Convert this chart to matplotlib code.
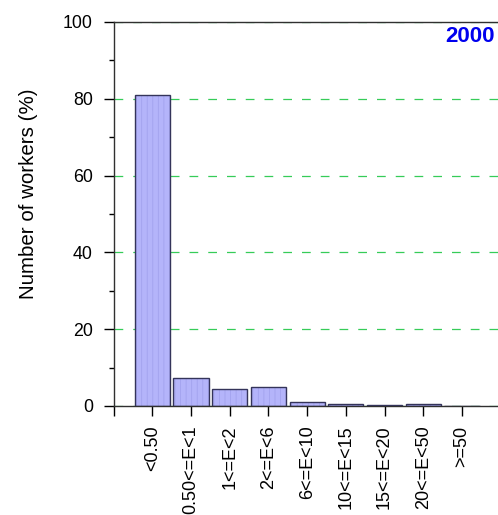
import matplotlib
matplotlib.use("Agg")
import matplotlib.pyplot as plt
from matplotlib.ticker import MultipleLocator

plt.rcParams['font.family'] = ['Liberation Sans', 'DejaVu Sans']
plt.rcParams['hatch.linewidth'] = 0.6

# --- data ---
CATEGORIES = ["<0.50", "0.50<=E<1", "1<=E<2", "2<=E<6", "6<=E<10",
              "10<=E<15", "15<=E<20", "20<=E<50", ">=50"]
SHARE_2000 = [81.0, 7.3, 4.4, 5.0, 1.1, 0.6, 0.35, 0.45, 0.1]
YEAR = "2000"

fig = plt.figure(figsize=(4.98, 5.15), dpi=100)
ax = fig.add_axes([0.2283, 0.2117, 0.777, 0.7456])

pos = list(range(1, len(CATEGORIES) + 1))

# fill with faint vertical hatching, then the dark outline on top
ax.bar(pos, SHARE_2000, width=0.91, color="#b4b4fa", edgecolor="#a2a2ee",
       linewidth=0, hatch="|||", zorder=2)
ax.bar(pos, SHARE_2000, width=0.91, fill=False, edgecolor="#34345a",
       linewidth=1.0, zorder=3)

ax.set_xlim(0, 10)
ax.set_ylim(0, 100)

ax.yaxis.set_major_locator(MultipleLocator(20))
ax.yaxis.set_minor_locator(MultipleLocator(10))
ax.set_xticks([0] + pos)
ax.set_xticklabels([""] + CATEGORIES, rotation=90, fontsize=13)
ax.tick_params(axis="y", which="major", length=7, width=1, labelsize=12.8, pad=8)
ax.tick_params(axis="y", which="minor", length=3.5, width=1)
ax.tick_params(axis="x", which="major", length=7, width=1, pad=7)

ax.grid(axis="y", color="#36cc58", linestyle=(0, (7, 8)), linewidth=0.9, zorder=1)
ax.set_axisbelow(True)

for side in ["left", "bottom", "top"]:
    ax.spines[side].set_color("#303030")
    ax.spines[side].set_linewidth(1.0)
ax.spines["right"].set_visible(False)

ax.set_ylabel("Number of workers (%)", fontsize=14.8)
ax.yaxis.set_label_coords(-0.196, 0.552)

ax.text(0.986, 0.99, YEAR, transform=ax.transAxes, ha="right", va="top",
        color="#0000ee", fontsize=16, fontweight="bold")

fig.savefig("out.png", dpi=100)
